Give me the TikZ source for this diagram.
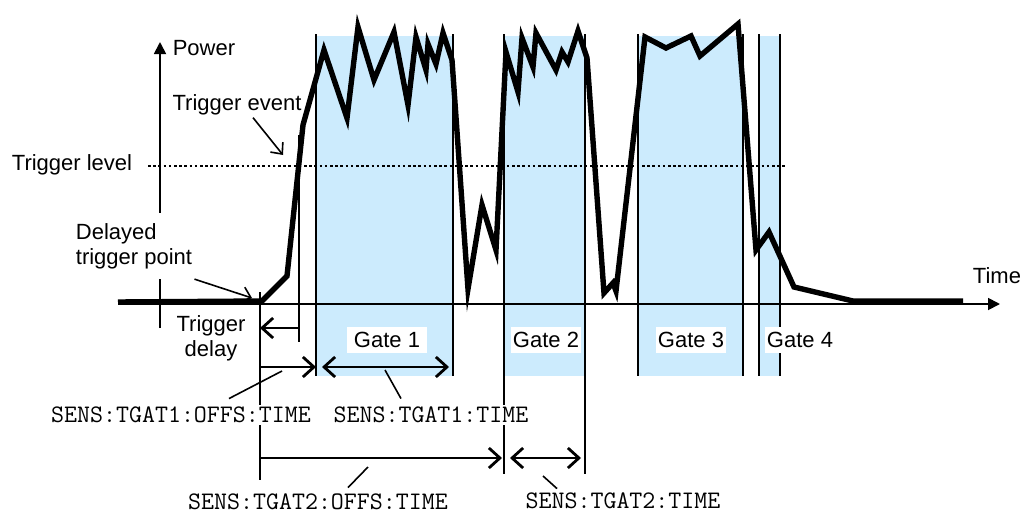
\documentclass[tikz,border=0pt]{standalone}
\usepackage{fontspec}
\setmainfont{Liberation Sans}
\usepackage{tikz}
\usetikzlibrary{positioning, arrows.meta, calc}
\definecolor{gtBlue}{HTML}{CCEBFD}
\tikzset{
  lbl/.style={font=\fontsize{11}{12.5}\selectfont, inner sep=1pt, align=center},
  cmd/.style={font=\fontsize{12.6}{14}\selectfont\ttfamily, fill=white, inner sep=1pt},
  gatelabel/.style={lbl, fill=white, inner xsep=1pt, inner ysep=2.5pt},
  gateline/.style={line width=0.9pt},
  axis/.style={line width=0.9pt, -{Triangle[length=6pt, width=6pt]}},
  signal/.style={line width=2.7pt, line join=miter, miter limit=10},
  pointer/.style={-{Straight Barb[length=4.5pt, width=8pt]}, line width=0.8pt},
  dim/.style={-{Straight Barb[length=5.5pt, width=10pt]}, line width=1.4pt},
  ddim/.style={{Straight Barb[length=5.5pt, width=10pt]}-{Straight Barb[length=5.5pt, width=10pt]},
    line width=1.4pt, shorten <=3pt, shorten >=2pt},
  leader/.style={line width=0.8pt}
}

\begin{document}
\begin{tikzpicture}[x=0.5pt, y=-0.5pt]
  \useasboundingbox (0,0) rectangle (1024,514);

  \foreach \g/\a/\b/\e in {1/316/453/376, 2/504/585/474, 3/638/743/376, 4/759/780/376}{
    \fill[gtBlue] (\a,36) rectangle (\b,376);
    \draw[gateline] (\a,34) -- (\a,\e);
    \draw[gateline] (\b,34) -- (\b,\e);
    \coordinate (g\g l) at (\a,0);
    \coordinate (g\g r) at (\b,0);
  }

  \coordinate (dly) at (260,302);
  \coordinate (evt) at (299,166);
  \coordinate (dtp) at (252,298);
  \coordinate (tep) at (283,155);

  \draw[axis] (118,304) -- (1000,304);
  \draw[axis] (160,328) -- (160,42);
  \draw[line width=0.8pt, dash pattern=on 1.3pt off 1.3pt] (148,166) -- (787,166);
  \draw[gateline] (dly |- 0,292) -- (dly |- 0,480);
  \draw[gateline] (evt |- 0,135) -- (evt |- 0,342);

  \draw[signal] (118,302) -- (262,301) -- (287,276) -- (303,125) -- (324,50)
    -- (347,118) -- (358,27) -- (374,80) -- (394,32) -- (408,105) -- (416,37)
    -- (426,70) -- (428,44) -- (436,64) -- (443,33) -- (452,60) -- (468,289)
    -- (482,205) -- (496,250) -- (506,52) -- (518,92) -- (522,38) -- (533,67)
    -- (536,33) -- (556,70) -- (562,52) -- (568,62) -- (578,31) -- (587,58)
    -- (604,293) -- (613,283) -- (616,291) -- (645,37) -- (666,48) -- (691,36)
    -- (700,56) -- (738,24) -- (756,250) -- (769,232) -- (794,287) -- (853,301)
    -- (963,301);

  \node[lbl] (pw) at (204,48) {Power};
  \node[lbl] (tm) at (997,276) {Time};
  \node[lbl] (tl) at (72,165) {Trigger level};
  \node[lbl] (te) at (237,105) {Trigger event};
  \node[lbl, fill=white, align=left, inner ysep=5pt] (dt) at (134,246) {Delayed\\trigger point};
  \node[lbl] (td) at (211,338) {Trigger\\delay};

  \node[gatelabel, inner xsep=3.5pt] (lg1) at (387,340) {Gate 1};
  \node[gatelabel] (lg2) at (546,340) {Gate 2};
  \node[gatelabel] (lg3) at (691,340) {Gate 3};
  \node[gatelabel] (lg4) at (800,340) {Gate 4};

  \draw[pointer] ([xshift=8pt]te.south) -- (tep);
  \draw[pointer] (dt.south east) -- (dtp);

  \draw[dim] (evt |- 0,328) -- (dly |- 0,328);
  \draw[dim] (dly |- 0,367) -- (g1l |- 0,367);
  \draw[ddim] (g1l |- 0,367) -- (g1r |- 0,367);
  \draw[dim, shorten >=1pt] (dly |- 0,458) -- (g2l |- 0,458);
  \draw[ddim] (g2l |- 0,458) -- (g2r |- 0,458);

  \node[cmd] (o1) at (181,415) {SENS:TGAT1:OFFS:TIME};
  \node[cmd] (t1) at (431,415) {SENS:TGAT1:TIME};
  \node[cmd] (o2) at (318,502) {SENS:TGAT2:OFFS:TIME};
  \node[cmd] (t2) at (623,501) {SENS:TGAT2:TIME};

  \draw[leader] (282,371) -- ([xshift=24pt, yshift=3pt]o1.north);
  \draw[leader] (385,370) -- ([xshift=-15pt, yshift=3pt]t1.north);
  \draw[leader] (368,467) -- ([xshift=15pt, yshift=2pt]o2.north);
  \draw[leader] (543,476) -- ([xshift=-33pt, yshift=1pt]t2.north);
\end{tikzpicture}
\end{document}
